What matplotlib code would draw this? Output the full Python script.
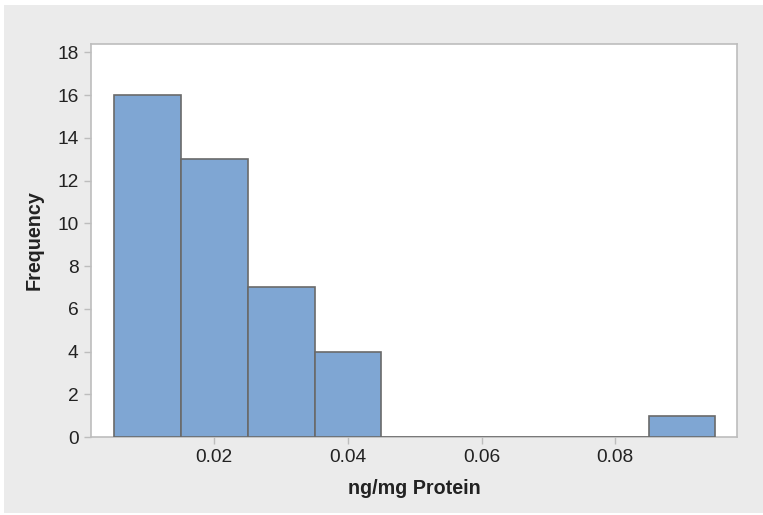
import matplotlib
matplotlib.use("Agg")
import matplotlib.pyplot as plt
from matplotlib.patches import Rectangle

# Histogram of concentration values (bin centres and counts)
bin_centers = [0.01, 0.02, 0.03, 0.04, 0.05, 0.06, 0.07, 0.08, 0.09]
counts = [16, 13, 7, 4, 0, 0, 0, 0, 1]
bin_width = 0.01

x_ticks = [0.02, 0.04, 0.06, 0.08]
x_tick_labels = ["0.02", "0.04", "0.06", "0.08"]
y_ticks = [0, 2, 4, 6, 8, 10, 12, 14, 16, 18]

x_label = "ng/mg Protein"
y_label = "Frequency"

plt.rcParams["font.family"] = ["Liberation Sans", "DejaVu Sans"]

W, H = 763, 515
fig = plt.figure(figsize=(W / 100, H / 100), dpi=100, facecolor="white")

# light grey panel behind the chart
fig.patches.append(Rectangle((4 / W, 2 / H), 1 - 4 / W, 1 - 7 / H,
                             transform=fig.transFigure, facecolor="#EBEBEB",
                             edgecolor="none", zorder=-10))

ax = fig.add_axes([91 / W, 1 - 437 / H, (737 - 91) / W, (437 - 44) / H])
ax.set_facecolor("white")

ax.bar(bin_centers, counts, width=bin_width, color="#7FA6D3",
       edgecolor="#6A6A6A", linewidth=1.2, zorder=3)

ax.set_xlim(0.00154, 0.09822)
ax.set_ylim(0, 18.39)
ax.set_xticks(x_ticks)
ax.set_xticklabels(x_tick_labels)
ax.set_yticks(y_ticks)

for side in ["left", "bottom", "top", "right"]:
    ax.spines[side].set_color("#BDBDBD")
    ax.spines[side].set_linewidth(1.2)

ax.tick_params(axis="both", direction="out", length=5, width=1,
               color="#BDBDBD", labelsize=13.8, labelcolor="#222222", pad=4)

ax.set_xlabel(x_label, fontsize=14.2, fontweight="bold", color="#222222", labelpad=9)
ax.set_ylabel(y_label, fontsize=14.2, fontweight="bold", color="#222222", labelpad=10)

fig.savefig("out.png", dpi=100, facecolor=fig.get_facecolor())
